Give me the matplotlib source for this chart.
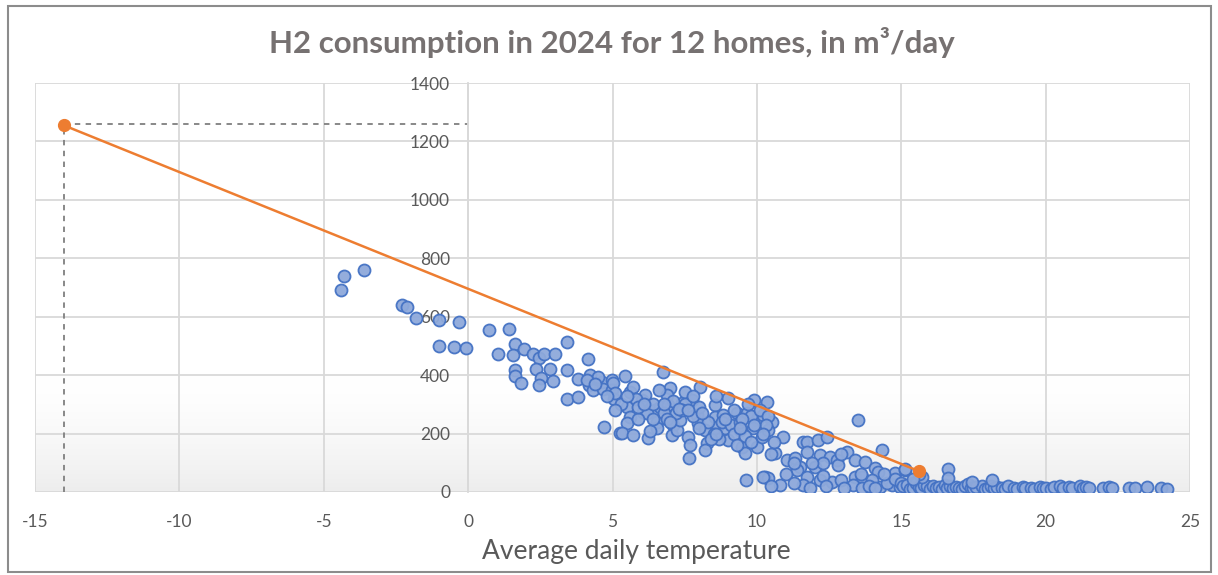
import numpy as np
import matplotlib.pyplot as plt
from matplotlib.patches import Rectangle

# average daily temperature (C) and H2 consumption (m3/day)
temp = [-4.4, -4.3, -3.6, -2.3, -2.1, -1.8, -1.0, -0.3, -1.0, -0.5, -0.07,
        0.73, 1.42, 1.63, 1.04, 1.56, 1.94, 2.25, 2.46, 2.63, 3.01, 3.42, 1.63, 1.63, 1.84,
        2.36, 2.53, 2.46, 2.84, 2.94, 3.42, 3.42, 3.81, 4.16, 3.81, 4.22, 4.19, 4.33, 4.64,
        4.68, 4.99, 4.99, 5.06, 4.71, 5.26,
        5.44, 6.75, 5.02, 5.09, 5.61, 5.71, 5.5, 5.61, 5.5, 5.33, 5.71, 6.23, 6.03, 6.13,
        6.06, 6.48, 6.55, 6.55, 6.65, 7.0, 6.89, 6.93, 7.1, 7.07, 7.24, 7.41, 7.52, 7.76,
        7.34, 7.62, 7.69, 7.65, 8.03, 7.93, 7.97, 8.21, 8.28, 8.21, 8.55, 8.55, 8.62, 8.83,
        8.9, 9.0, 9.0, 9.32, 9.42, 9.49, 9.59, 9.63, 9.66, 9.9, 10.0, 9.87, 10.0, 10.18,
        10.21, 10.28, 10.35,
        10.52, 10.39, 10.9, 10.63, 11.05, 11.32, 11.6, 11.74, 11.74, 12.12, 12.43, 13.5,
        14.34, 13.13, 12.19, 12.54, 12.78, 12.81, 12.02, 11.5, 11.39, 11.74, 11.6, 11.84,
        12.19, 12.6, 10.8, 10.39, 10.21, 13.4, 13.75, 14.1, 14.2, 13.4, 13.65, 13.33, 13.65,
        14.27, 14.68, 14.79, 15.13, 14.96,
        5.3, 5.8, 6.2, 6.4, 6.8, 7.2, 7.5, 7.8, 8.0, 8.3, 8.5, 8.8, 9.1, 9.2, 9.4, 9.6, 9.8,
        9.8, 10.1, 10.4, 10.6, 9.3, 8.7, 8.0, 7.4, 6.9, 6.3, 5.9, 5.1, 4.5, 4.1, 4.8, 8.6,
        9.7, 10.3, 7.1, 6.6, 7.8, 8.4, 9.5, 10.5, 11.3, 12.3, 12.9, 13.6, 14.0, 13.9, 14.5,
        15.4, 14.8, 12.9, 12.3, 11.9, 11.0, 10.5, 11.3, 14.4, 13.0, 12.4, 14.1, 15.0,
        5.9, 6.4, 7.3, 8.1, 8.9, 9.2, 9.9, 6.1, 7.0, 8.6, 9.4, 10.2, 4.4, 5.5, 6.8, 7.6,
        15.07, 15.2, 15.3, 15.4, 15.5, 15.6, 15.7, 15.8, 15.9, 16.0, 16.1, 16.2, 16.3, 16.4,
        16.5, 16.6, 16.7, 16.8, 16.9, 17.0, 17.1, 17.2, 17.3, 17.4, 17.5, 17.6, 17.8, 17.9,
        18.0, 18.1, 18.2, 18.3, 18.5, 18.6, 18.7, 18.9, 19.0, 19.2, 19.3, 19.5, 19.6, 19.8,
        19.9, 20.0, 20.2, 20.3, 20.5, 20.6, 20.8, 20.9, 21.2, 21.3, 21.4, 21.5, 22.0, 22.2,
        22.3, 22.9, 23.1, 23.5, 24.0, 24.2,
        15.13, 15.72, 16.62, 16.62, 17.45, 18.15, 15.6, 15.4]
h2 = [690, 740, 760, 640, 632, 595, 590, 582, 500, 495, 493,
      555, 558, 507, 472, 469, 490, 472, 458, 472, 472, 514, 418, 397, 373,
      421, 390, 366, 421, 380, 418, 318, 325, 455, 387, 400, 366, 349, 377,
      353, 383, 349, 318, 222, 202,
      397, 411, 373, 339, 342, 360, 291, 257, 236, 202, 195, 185, 315, 332,
      274, 281, 240, 219, 291, 356, 332, 298, 229, 195, 212, 305, 342, 315,
      246, 188, 161, 116, 360, 264, 236, 212, 168, 144, 298, 257, 223, 264,
      219, 322, 178, 270, 212, 154, 134, 41, 270, 315, 246, 219, 154, 188,
      264, 51, 308,
      240, 212, 188, 134, 110, 116, 171, 171, 137, 178, 188, 246,
      144, 137, 127, 120, 110, 92, 86, 86, 75, 51, 24, 14,
      41, 34, 24, 48, 51, 110, 103, 82, 68, 51, 51, 24, 14,
      17, 24, 65, 75, 17,
      300, 320, 270, 300, 270, 270, 300, 260, 290, 240, 200, 240, 230, 200, 240, 190, 170,
      260, 280, 260, 170, 160, 180, 220, 280, 250, 210, 250, 280, 395, 385, 330, 330,
      300, 230, 310, 350, 330, 180, 250, 130, 100, 100, 130, 60, 40, 20, 30,
      30, 45, 40, 55, 100, 60, 20, 30, 60, 15, 20, 15, 30,
      290, 250, 285, 270, 250, 280, 230, 300, 240, 200, 220, 200, 370, 330, 300, 280,
      20, 25, 10, 15, 30, 18, 12, 25, 20, 10, 22, 15, 18, 10,
      25, 15, 20, 12, 18, 15, 10, 20, 28, 15, 12, 18, 20, 10,
      15, 22, 12, 18, 15, 10, 20, 14, 10, 18, 12, 15, 10, 18,
      12, 14, 10, 16, 20, 12, 18, 15, 20, 12, 18, 15, 15, 18,
      12, 12, 15, 18, 14, 10,
      79, 51, 79, 48, 34, 41, 60, 45]

trend_x = [-14, 15.6]
trend_y = [1255, 72]
ref_y = 1260

plt.rcParams['font.family'] = ['Lato', 'DejaVu Sans']
plt.rcParams['axes.unicode_minus'] = False
grey = '#595959'

fig = plt.figure(figsize=(12.18, 5.75), dpi=100)
ax = fig.add_axes([35/1218, 1-492/575, 1155/1218, 409/575])

# light gradient at the bottom of the plot area
g = np.linspace(0, 1, 256)
shade = np.clip((g - 0.72) / 0.28, 0, 1) ** 1.5
img = np.ones((256, 1, 3)) - shade[:, None, None] * 0.07
ax.imshow(img, extent=[0, 1, 0, 1], transform=ax.transAxes, aspect='auto', zorder=0)

ax.set_xlim(-15, 25)
ax.set_ylim(0, 1400)
ax.set_xticks(range(-15, 26, 5))
ax.set_yticks(range(0, 1401, 200))
ax.grid(True, color='#D9D9D9', lw=1.3, zorder=1)
ax.set_axisbelow(True)
for s in ['top', 'right', 'bottom']:
    ax.spines[s].set_visible(False)
ax.spines['left'].set_position(('data', 0))
ax.spines['left'].set_color('#D9D9D9')
ax.spines['left'].set_linewidth(1.3)
ax.tick_params(axis='both', length=0, labelsize=12.5, labelcolor=grey)
ax.tick_params(axis='x', pad=16)
ax.tick_params(axis='y', pad=13)

ax.plot([trend_x[0], trend_x[0]], [0, ref_y], ls=(0, (3, 3)), color='#7F7F7F', lw=1.3, zorder=2)
ax.plot([trend_x[0], 0], [ref_y, ref_y], ls=(0, (3, 3)), color='#7F7F7F', lw=1.3, zorder=2)

ax.scatter(temp, h2, s=75, facecolor='#8EA9DB', edgecolor='#4472C4', lw=1.3, alpha=0.95, zorder=3)
ax.plot(trend_x, trend_y, color='#ED7D31', lw=1.8, marker='o', ms=8.5, zorder=4)

fig.text(612/1218, 1-42/575, 'H2 consumption in 2024 for 12 homes, in m³/day',
         ha='center', va='center', fontsize=22.5, fontweight='bold', color='#767171')
fig.text(636/1218, 1-551/575, 'Average daily temperature', ha='center', va='center',
         fontsize=19, color=grey)

fig.patches.append(Rectangle((8/1218, 3/575), 1203/1218, 566/575, transform=fig.transFigure,
                             fill=False, edgecolor='#8C8C8C', lw=1.5))

fig.savefig('out.png', dpi=100)
